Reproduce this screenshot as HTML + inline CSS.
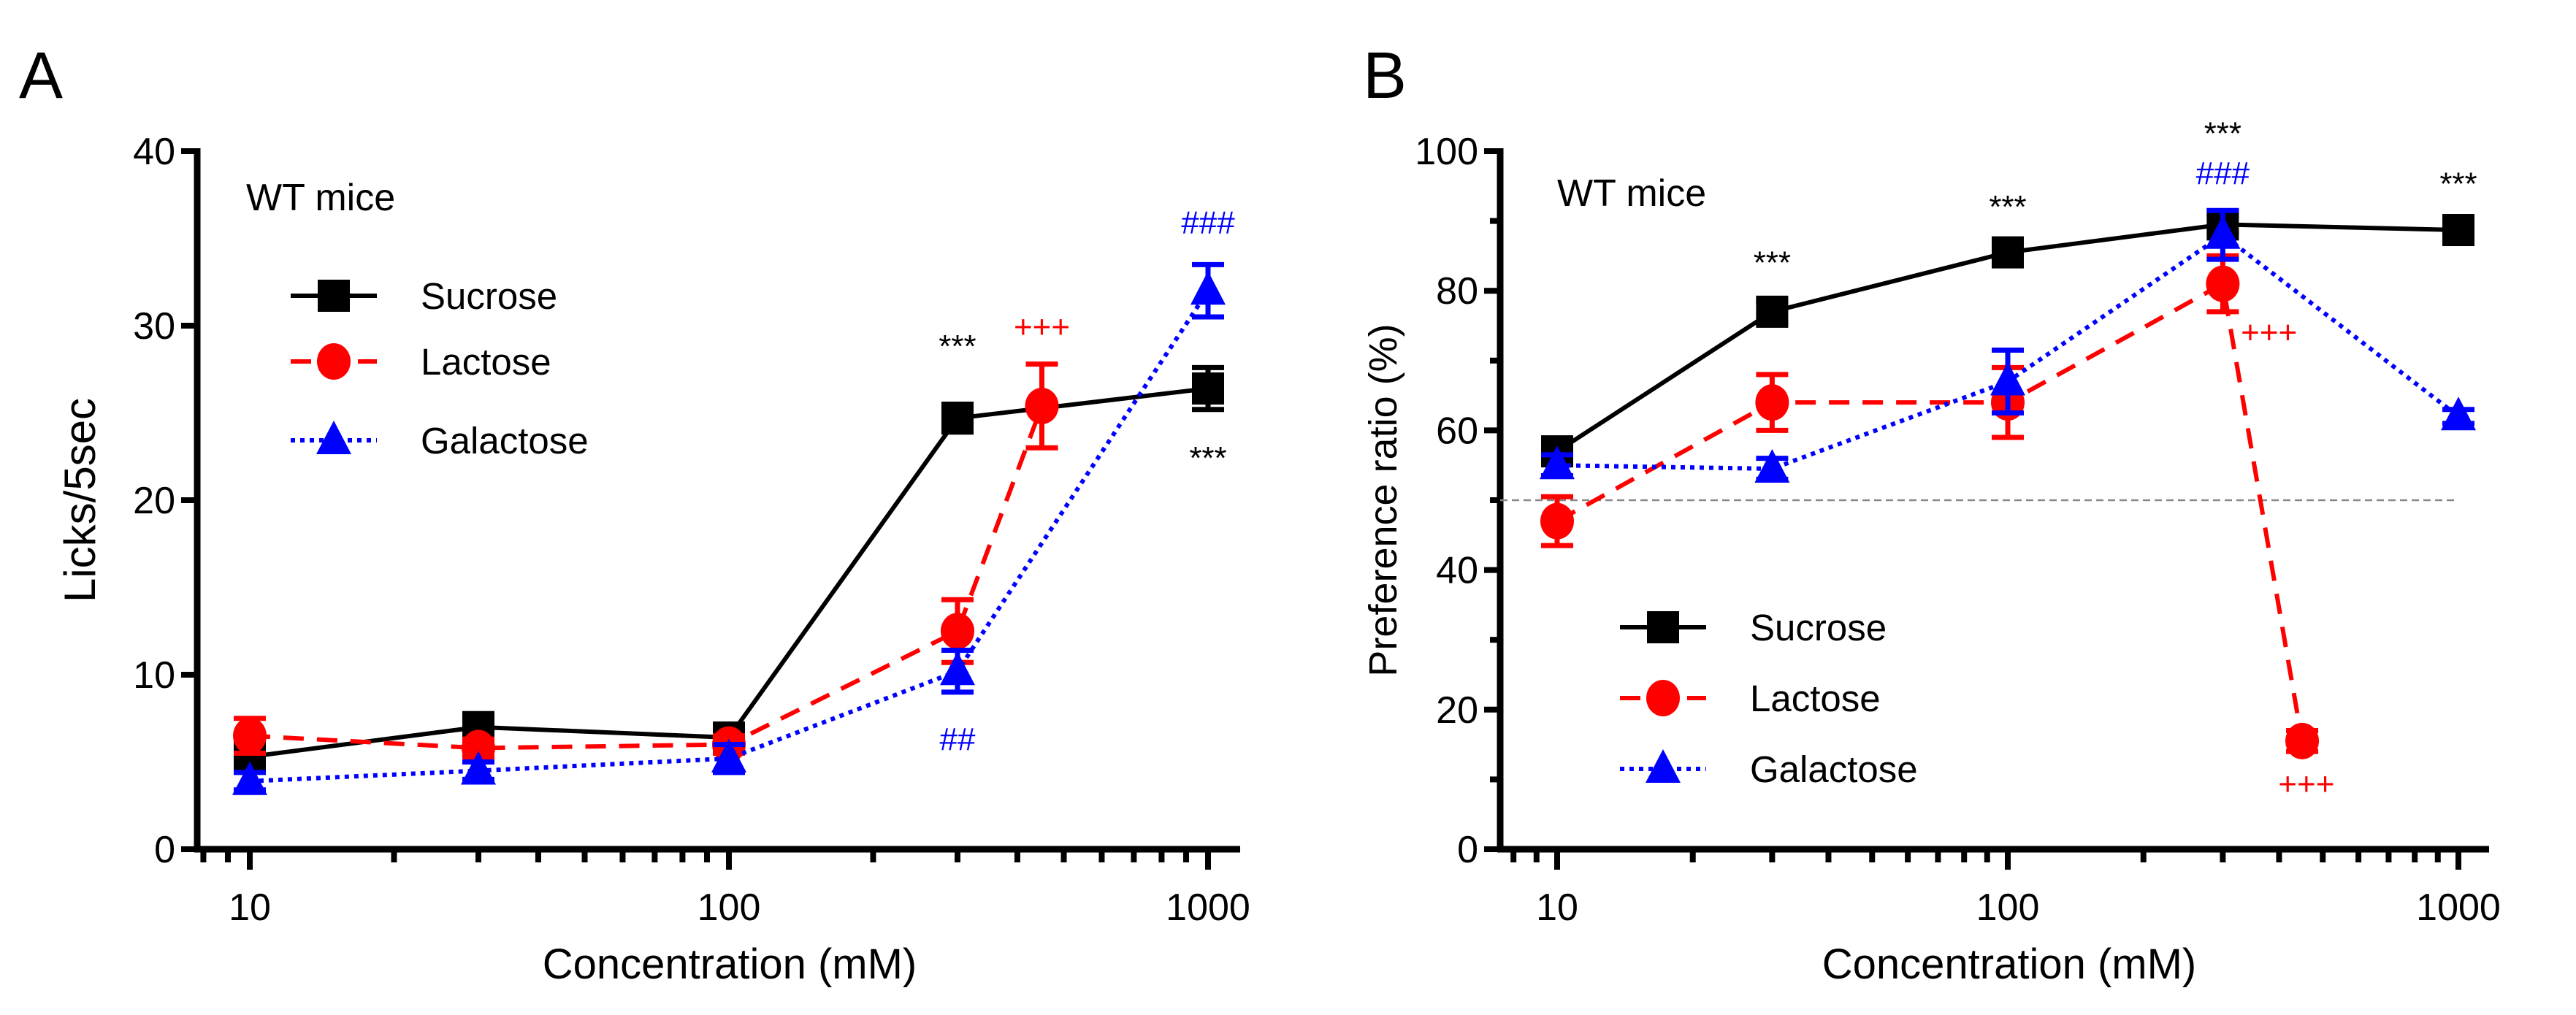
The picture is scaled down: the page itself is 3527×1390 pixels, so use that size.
<!DOCTYPE html>
<html><head><meta charset="utf-8"><style>
html,body{margin:0;padding:0;background:#fff}
svg{display:block}
text{font-family:"Liberation Sans",Arial,sans-serif}
</style></head><body>
<svg id="fig" width="3527" height="1390" viewBox="0 0 3527 1390" xmlns="http://www.w3.org/2000/svg"></svg>
<script>
const concs = [10, 30, 100, 300, 1000];
const lacConcs = [10, 30, 100, 300, 450];
// Panel A: Licks/5sec
const aSucrose = [5.3, 7.0, 6.4, 24.7, 26.4];
const aSucroseErr = [0.6, 0.5, 0.5, 0.8, 1.2];
const aLactose = [6.5, 5.8, 6.0, 12.5, 25.4];
const aLactoseErr = [1.0, 0.5, 0.5, 1.8, 2.4];
const aGalactose = [3.9, 4.5, 5.2, 10.2, 32.0];
const aGalactoseErr = [0.5, 0.5, 0.8, 1.2, 1.5];
const aYTicks = [0, 10, 20, 30, 40];
// Panel B: Preference ratio
const bSucrose = [57, 77, 85.5, 89.5, 88.7];
const bSucroseErr = [1.5, 1.5, 1.2, 1.2, 1.0];
const bLactose = [47, 64, 64, 81, 15.5];
const bLactoseErr = [3.5, 4, 5, 4, 1.5];
const bGalactose = [55, 54.5, 67, 88, 62];
const bGalactoseErr = [1.5, 1.5, 4.5, 3.5, 1.0];
const bYTicks = [0, 20, 40, 60, 80, 100];
const xTickLabels = [10, 100, 1000];

const NS = "http://www.w3.org/2000/svg";
const svg = document.getElementById('fig');
function mk(tag, attrs, parent, txt){
  const e = document.createElementNS(NS, tag);
  for (const k in attrs) e.setAttribute(k, attrs[k]);
  if (txt !== undefined) e.textContent = txt;
  (parent || svg).appendChild(e);
  return e;
}
const COL = {s:'#000', l:'#ff0000', g:'#0000ff'};
const DASH = {s:'none', l:'28 18', g:'6 7'};

function panel(cfg){
  const g = mk('g', {});
  
  
  const X = v => cfg.x10 + (Math.log10(v) - 1) * cfg.dec;
  const Y = v => cfg.y0 - v / cfg.ymax * (cfg.y0 - cfg.yTop);
  const ya = mk('line', {x1:cfg.ax, y1:cfg.yTop-4, x2:cfg.ax, y2:cfg.y0+4, stroke:'#000','stroke-width':9}, g);
   
  const xa = mk('line', {x1:cfg.ax-4, y1:cfg.y0, x2:cfg.xEnd, y2:cfg.y0, stroke:'#000','stroke-width':9}, g);
   
  cfg.yTicks.forEach(v => {
    mk('line', {x1:cfg.ax-22, y1:Y(v), x2:cfg.ax, y2:Y(v), stroke:'#000','stroke-width':8}, g);
    const t = mk('text', {x:cfg.ax-30, y:Y(v)+18, 'text-anchor':'end','font-size':52}, g, v);
     
  });
  if (cfg.yMinor) cfg.yMinor.forEach(v => mk('line', {x1:cfg.ax-14, y1:Y(v), x2:cfg.ax, y2:Y(v), stroke:'#000','stroke-width':8}, g));
  [8,9,10,20,30,40,50,60,70,80,90,100,200,300,400,500,600,700,800,900,1000].forEach(v => {
    const major = (v===10||v===100||v===1000);
    const xx = X(v);
    if (xx < cfg.ax+4) return;
    mk('line', {x1:xx, y1:cfg.y0, x2:xx, y2:cfg.y0+(major?28:18), stroke:'#000','stroke-width':8}, g);
  });
  xTickLabels.forEach(v => {
    const t = mk('text', {x:X(v), y:cfg.y0+97, 'text-anchor':'middle','font-size':52}, g, v);
     
  });
  const xt = mk('text', {x:cfg.xTitleX, y:1340, 'text-anchor':'middle','font-size':58}, g, 'Concentration (mM)');
   
  const yt = mk('text', {x:0, y:0, 'text-anchor':'middle','font-size':cfg.yTitleSize, transform:`translate(${cfg.yTitleX},${(cfg.y0+cfg.yTop)/2}) rotate(-90)`}, g, cfg.yTitle);
   
  const pl = mk('text', {x:cfg.letterX, y:134, 'font-size':90}, g, cfg.letter);
   
  const wt = mk('text', {x:cfg.wtX, y:cfg.wtY, 'font-size':52}, g, 'WT mice');
   
  if (cfg.refLine !== undefined) {
    const r = mk('line', {x1:cfg.ax, y1:Y(cfg.refLine), x2:X(1000), y2:Y(cfg.refLine), stroke:'#888','stroke-width':2.5,'stroke-dasharray':'10 6'}, g);
     
  }
  function marker(type, x, y, parent){
    let m;
    if (type==='s') m = mk('rect', {x:x-22, y:y-22, width:44, height:44, fill:COL.s}, parent);
    else if (type==='l') m = mk('ellipse', {cx:x, cy:y, rx:23, ry:25, fill:COL.l}, parent);
    else m = mk('polygon', {points:`${x},${y-27} ${x-24},${y+19} ${x+24},${y+19}`, fill:COL.g}, parent);
    return m;
  }
  const series = [['s','sucrose',concs,cfg.s,cfg.se],['l','lactose',lacConcs,cfg.l,cfg.le],['g','galactose',concs,cfg.g,cfg.ge]];
  series.forEach(([k,nm,xs,ys,es]) => {
    const sg = mk('g', {}, g);
     
    const pts = xs.map((c,i)=>`${X(c)},${Y(ys[i])}`).join(' ');
    const ln = mk('polyline', {points:pts, fill:'none', stroke:COL[k], 'stroke-width':6, 'stroke-dasharray':DASH[k]}, sg);
     
    xs.forEach((c,i) => {
      const x = X(c), y1 = Y(ys[i]+es[i]), y2 = Y(ys[i]-es[i]);
      const eb = mk('path', {d:`M${x},${y1}V${y2}M${x-22},${y1}H${x+22}M${x-22},${y2}H${x+22}`, stroke:COL[k],'stroke-width':7, fill:'none'}, sg);
       
      const m = marker(k, x, Y(ys[i]), sg);
       
    });
  });
  const names = ['Sucrose','Lactose','Galactose'];
  ['s','l','g'].forEach((k,i) => {
    const lg = mk('g', {}, g);
     
    const y = cfg.legY[i];
    mk('line', {x1:cfg.legX, y1:y, x2:cfg.legX+118, y2:y, stroke:COL[k],'stroke-width':6,'stroke-dasharray':DASH[k]}, lg);
    marker(k, cfg.legX+59, y, lg);
    mk('text', {x:cfg.legX+178, y:y+18, 'font-size':51}, lg, names[i]);
  });
  cfg.ann.forEach(a => {
    const t = mk('text', {x:X(a[0]), y:Y(a[1]), 'text-anchor':'middle','font-size':44, fill:a[3]}, g, a[2]);
     
  });
}

panel({name:'panel-a', letter:'A', letterX:26, ax:270, y0:1163, yTop:207, ymax:40, xEnd:1698,
  x10:342, dec:656, yTicks:aYTicks, yTitle:'Licks/5sec', yTitleSize:60, yTitleX:130, xTitleX:999,
  wtX:337, wtY:288, legX:398, legY:[405,495,603],
  s:aSucrose, se:aSucroseErr, l:aLactose, le:aLactoseErr, g:aGalactose, ge:aGalactoseErr,
  ann:[[300,28.2,'***','#000'],[450,29.3,'+++','#ff0000'],[1000,35.3,'###','#0000ff'],[1000,21.8,'***','#000'],[300,5.7,'##','#0000ff']]});

panel({name:'panel-b', letter:'B', letterX:1866, ax:2054, y0:1163, yTop:207, ymax:100, xEnd:3408,
  x10:2132, dec:617, yTicks:bYTicks, yMinor:[10,30,50,70,90], yTitle:'Preference ratio (%)', yTitleSize:54, yTitleX:1912, xTitleX:2751,
  wtX:2132, wtY:282, legX:2218, legY:[859,956,1053], refLine:50,
  s:bSucrose, se:bSucroseErr, l:bLactose, le:bLactoseErr, g:bGalactose, ge:bGalactoseErr,
  ann:[[30,82.5,'***','#000'],[100,90.5,'***','#000'],[300,101,'***','#000'],[300,95.3,'###','#0000ff'],[1000,93.8,'***','#000'],[380,72.5,'+++','#ff0000'],[460,7.8,'+++','#ff0000']]});
</script>
</body></html>
